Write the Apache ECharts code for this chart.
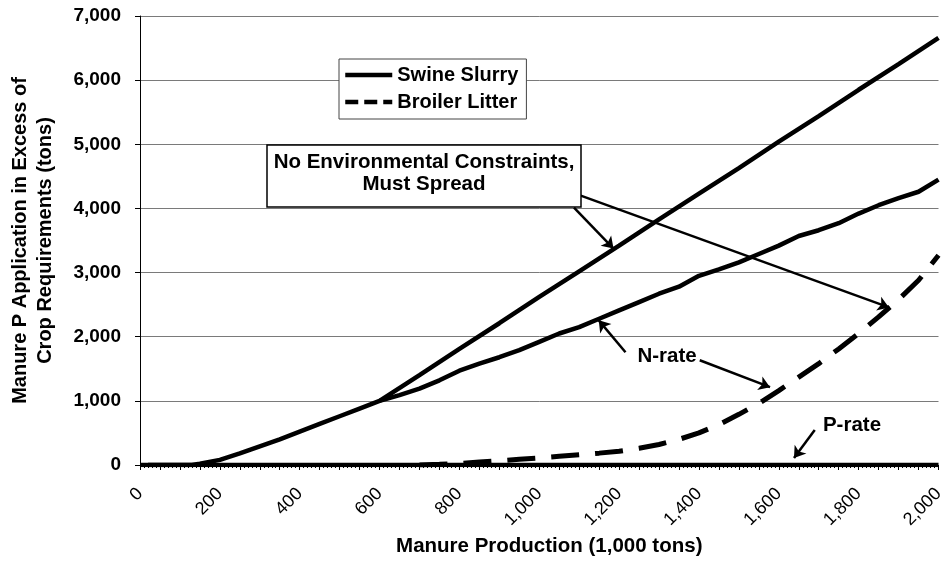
<!DOCTYPE html>
<html>
<head>
<meta charset="utf-8">
<script src="https://cdn.jsdelivr.net/npm/echarts@6/dist/echarts.min.js"></script>
<style>
  html, body { margin: 0; padding: 0; background: #fff; }
  #chart { width: 947px; height: 576px; }
</style>
</head>
<body>
<div id="chart"></div>
<script>
  // manure production (1,000 tons) vs P applied in excess of crop needs (tons)
  var swineMustX = [0, 100, 130, 150, 200, 250, 300, 350, 400, 450, 500, 550, 600, 700, 800, 900, 1000, 1100, 1200, 1300, 1400, 1500, 1600, 1700, 1800, 1900, 2000];
  var swineMustY = [0, 0, 0, 20, 80, 180, 290, 400, 520, 640, 760, 880, 1000, 1400, 1810, 2210, 2620, 3020, 3420, 3830, 4230, 4630, 5040, 5440, 5850, 6250, 6660];

  var swineNX = [600, 650, 700, 750, 800, 850, 900, 950, 1000, 1050, 1100, 1150, 1200, 1250, 1300, 1350, 1400, 1450, 1500, 1550, 1600, 1650, 1700, 1750, 1800, 1850, 1900, 1950, 2000];
  var swineNY = [1000, 1090, 1190, 1320, 1470, 1580, 1680, 1790, 1920, 2050, 2150, 2280, 2410, 2540, 2670, 2780, 2950, 3050, 3160, 3290, 3420, 3570, 3660, 3770, 3920, 4050, 4160, 4260, 4450];

  var swinePX = [20, 2000];
  var swinePY = [0, 0];

  var broilerX = [700, 750, 800, 850, 900, 950, 1000, 1050, 1100, 1150, 1200, 1250, 1300, 1350, 1400, 1450, 1500, 1550, 1600, 1650, 1700, 1750, 1800, 1850, 1900, 1950, 2000];
  var broilerY = [0, 10, 25, 45, 65, 90, 110, 135, 160, 185, 215, 260, 320, 400, 500, 630, 790, 960, 1160, 1370, 1580, 1810, 2050, 2310, 2580, 2880, 3270];

  // annotation arrows, in data units [from, to]
  var arrows = [
    [[1087, 4012], [1186, 3375]],
    [[1104, 4199], [1876, 2457]],
    [[1216, 1757], [1149, 2255]],
    [[1402, 1633], [1578, 1213]],
    [[1690, 544], [1638, 109]]
  ];

  var FONT = "'Liberation Sans', Arial, sans-serif";

  function pairs(xs, ys) {
    return xs.map(function (x, i) { return [x, ys[i]]; });
  }

  var chart = echarts.init(document.getElementById('chart'));

  var hidden = { color: '#000', opacity: 0 };

  var option = {
    animation: false,
    backgroundColor: '#fff',
    grid: { left: 137, right: 4, top: 16, bottom: 111, containLabel: false },
    legend: {
      orient: 'vertical',
      left: 339,
      top: 59,
      padding: [6, 8, 7, 4],
      itemGap: 7,
      itemWidth: 47,
      itemHeight: 22,
      backgroundColor: '#fff',
      borderColor: '#444',
      borderWidth: 1,
      itemStyle: { opacity: 0 },
      textStyle: { fontFamily: FONT, fontWeight: 'bold', fontSize: 20, color: '#000' },
      data: [
        { name: 'Swine Slurry', itemStyle: { opacity: 0 }, lineStyle: { width: 4.5, color: '#000' } },
        { name: 'Broiler Litter', itemStyle: { opacity: 0 }, lineStyle: { type: [13, 6], width: 4.5, color: '#000' } }
      ]
    },
    xAxis: {
      type: 'value',
      min: 0,
      max: 2000,
      interval: 50,
      name: 'Manure Production (1,000 tons)',
      nameLocation: 'middle',
      nameGap: 81,
      nameTextStyle: { fontFamily: FONT, fontWeight: 'bold', fontSize: 20.5, color: '#000', verticalAlign: 'middle', padding: [0, 0, 0, 20] },
      axisLine: { show: true, onZero: false, lineStyle: { color: '#000', width: 1 } },
      axisTick: { show: true, length: 5, lineStyle: { color: '#000' } },
      minorTick: { show: true, splitNumber: 5, length: 3, lineStyle: { color: '#000' } },
      splitLine: { show: false },
      axisLabel: {
        rotate: 45,
        margin: 26,
        fontFamily: FONT,
        fontSize: 18,
        color: '#000',
        formatter: function (v) { return v % 200 === 0 ? v.toLocaleString('en-US') : ''; }
      }
    },
    yAxis: {
      type: 'value',
      min: 0,
      max: 7000,
      interval: 1000,
      name: 'Manure P Application in Excess of\nCrop Requirements (tons)',
      nameLocation: 'middle',
      nameGap: 107,
      nameTextStyle: { fontFamily: FONT, fontWeight: 'bold', fontSize: 20, lineHeight: 25, color: '#000', verticalAlign: 'middle', align: 'center' },
      axisLine: { show: true, lineStyle: { color: '#000', width: 1 } },
      axisTick: { show: true, length: 5, lineStyle: { color: '#000' } },
      splitLine: { show: true, lineStyle: { color: '#7a7a7a', width: 1 } },
      axisLabel: {
        margin: 19,
        fontFamily: FONT,
        fontWeight: 'bold',
        fontSize: 19,
        color: '#000',
        formatter: function (v) { return v.toLocaleString('en-US'); }
      }
    },
    series: [
      {
        name: 'Swine Slurry',
        type: 'line',
        symbol: 'none',
        itemStyle: hidden,
        lineStyle: { color: '#000', width: 4.5 },
        data: pairs(swineMustX, swineMustY)
      },
      {
        name: 'Swine Slurry',
        type: 'line',
        symbol: 'none',
        itemStyle: hidden,
        lineStyle: { color: '#000', width: 4.5 },
        data: pairs(swineNX, swineNY)
      },
      {
        name: 'Broiler Litter',
        type: 'line',
        symbol: 'none',
        itemStyle: hidden,
        lineStyle: { color: '#000', width: 5, type: [28, 16], cap: 'butt' },
        data: pairs(broilerX, broilerY)
      },
      {
        name: 'Swine Slurry',
        type: 'line',
        symbol: 'none',
        itemStyle: hidden,
        lineStyle: { color: '#000', width: 4.5 },
        data: pairs(swinePX, swinePY),
        markLine: {
          silent: true,
          symbol: ['none', 'arrow'],
          symbolSize: 11,
          label: { show: false },
          lineStyle: { color: '#000', width: 2.5, type: 'solid' },
          data: arrows.map(function (a) {
            return [{ coord: a[0] }, { coord: a[1] }];
          })
        }
      }
    ],
    graphic: [
      {
        type: 'rect',
        z: 100,
        shape: { x: 267, y: 145, width: 314, height: 62 },
        style: { fill: '#fff', stroke: '#000', lineWidth: 1.5 }
      },
      {
        type: 'text',
        z: 101,
        x: 424,
        y: 162,
        style: { text: 'No Environmental Constraints,', font: 'bold 20.5px ' + FONT, fill: '#000', align: 'center', verticalAlign: 'middle' }
      },
      {
        type: 'text',
        z: 101,
        x: 424,
        y: 184,
        style: { text: 'Must Spread', font: 'bold 20.5px ' + FONT, fill: '#000', align: 'center', verticalAlign: 'middle' }
      },
      {
        type: 'text',
        z: 101,
        x: 667,
        y: 356,
        style: { text: 'N-rate', font: 'bold 20.5px ' + FONT, fill: '#000', align: 'center', verticalAlign: 'middle' }
      },
      {
        type: 'text',
        z: 101,
        x: 852,
        y: 425,
        style: { text: 'P-rate', font: 'bold 20.5px ' + FONT, fill: '#000', align: 'center', verticalAlign: 'middle' }
      }
    ]
  };

  chart.setOption(option);
  window.addEventListener('resize', function () {
    chart.resize();
  });
</script>
</body>
</html>
